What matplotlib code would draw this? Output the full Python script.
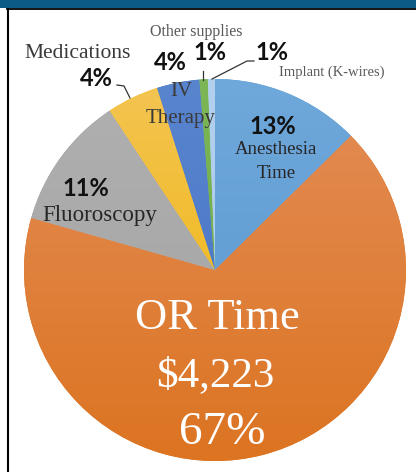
import matplotlib
matplotlib.use("Agg")
import matplotlib.pyplot as plt
import numpy as np
from matplotlib.colors import LinearSegmentedColormap

# ---- data ----
categories = ["Anesthesia Time", "OR Time", "Fluoroscopy", "Medications",
              "IV Therapy", "Other supplies", "Implant (K-wires)"]
values = [12.6, 66.8, 11.3, 4.4, 3.6, 0.7, 0.6]
pct_labels = ["13%", "67%", "11%", "4%", "4%", "1%", "1%"]
or_cost = "$4,223"
top_colors = ["#6fa8da", "#e38d58", "#b0b0b0", "#f3c452", "#5985cf", "#7cb656", "#b3d0ee"]
bot_colors = ["#5896d0", "#dc7421", "#a2a2a2", "#f0b300", "#4370c2", "#6aa943", "#a7c8ea"]

W, H = 416, 472
fig = plt.figure(figsize=(W / 100, H / 100), dpi=100)
ax = fig.add_axes([0, 0, 1, 1])

cx, cy, R = 215, H - 270, 191
wedges, _ = ax.pie(values, center=(cx, cy), radius=R, startangle=90,
                   counterclock=False, colors=bot_colors,
                   wedgeprops=dict(linewidth=0))

grad = np.linspace(0, 1, 256).reshape(-1, 1)
for w, ct, cb in zip(wedges, top_colors, bot_colors):
    cmap = LinearSegmentedColormap.from_list("g", [ct, cb])
    im = ax.imshow(grad, cmap=cmap, extent=(cx - R, cx + R, cy - R, cy + R),
                   origin="upper", aspect="auto", zorder=1.5, interpolation="bilinear")
    im.set_clip_path(w)

ax.set_xlim(0, W)
ax.set_ylim(0, H)
ax.set_aspect("auto")
ax.axis("off")

def Y(py):
    return H - py

serif = "Liberation Serif"
bold = "Lato"
gray = "#595959"
dark = "#3a3a3a"

# category labels
ax.text(196, Y(32), categories[5], family=serif, fontsize=11.5, color=gray, ha="center", va="center", zorder=5)
ax.text(78, Y(53), categories[3], family=serif, fontsize=15.5, color=dark, ha="center", va="center", zorder=5)
ax.text(332, Y(72), categories[6], family=serif, fontsize=10.5, color=gray, ha="center", va="center", zorder=5)
ax.text(181, Y(92), "IV", family=serif, fontsize=15, color=dark, ha="center", va="center", zorder=5)
ax.text(181, Y(118), "Therapy", family=serif, fontsize=15, color=dark, ha="center", va="center", zorder=5)
ax.text(276, Y(150), "Anesthesia", family=serif, fontsize=13.5, color="#262626", ha="center", va="center", zorder=5)
ax.text(276, Y(173), "Time", family=serif, fontsize=13.5, color="#262626", ha="center", va="center", zorder=5)
ax.text(100, Y(215), categories[2], family=serif, fontsize=16.5, color="#262626", ha="center", va="center", zorder=5)

# percentages (bold)
pfs = 17
ax.text(273, Y(126), pct_labels[0], family=bold, weight="bold", fontsize=pfs, color="#111111", ha="center", va="center", zorder=5)
ax.text(86, Y(189), pct_labels[2], family=bold, weight="bold", fontsize=pfs, color="#111111", ha="center", va="center", zorder=5)
ax.text(96, Y(79), pct_labels[3], family=bold, weight="bold", fontsize=pfs, color="#111111", ha="center", va="center", zorder=5)
ax.text(170, Y(63), pct_labels[4], family=bold, weight="bold", fontsize=pfs, color="#111111", ha="center", va="center", zorder=5)
ax.text(210, Y(53), pct_labels[5], family=bold, weight="bold", fontsize=pfs, color="#111111", ha="center", va="center", zorder=5)
ax.text(272, Y(53), pct_labels[6], family=bold, weight="bold", fontsize=pfs, color="#111111", ha="center", va="center", zorder=5)

# OR time labels
ax.text(217, Y(318), "OR Time", family=serif, fontsize=32, color="white", ha="center", va="center", zorder=5)
ax.text(215, Y(376), or_cost, family=serif, fontsize=31, color="white", ha="center", va="center", zorder=5)
ax.text(222, Y(433), pct_labels[1], family=serif, fontsize=34, color="white", ha="center", va="center", zorder=5)

# leader lines
lc = "#333333"
ax.plot([117, 124, 130], [Y(85), Y(86), Y(98)], color=lc, lw=0.9, zorder=5)
ax.plot([203, 203], [Y(71), Y(80)], color=lc, lw=0.9, zorder=5)
ax.plot([254, 247, 212], [Y(61), Y(61), Y(79)], color=lc, lw=0.9, zorder=5)

# frame: top bar, black rules
ax.add_patch(plt.Rectangle((0, Y(8)), W, 8, color="#0c5a86", zorder=6, lw=0))
ax.plot([7, W], [Y(8.5), Y(8.5)], color="black", lw=1.3, zorder=7)
ax.plot([7.5, 7.5], [Y(8.5), 0], color="black", lw=1.5, zorder=7)

fig.savefig("out.png", dpi=100)
